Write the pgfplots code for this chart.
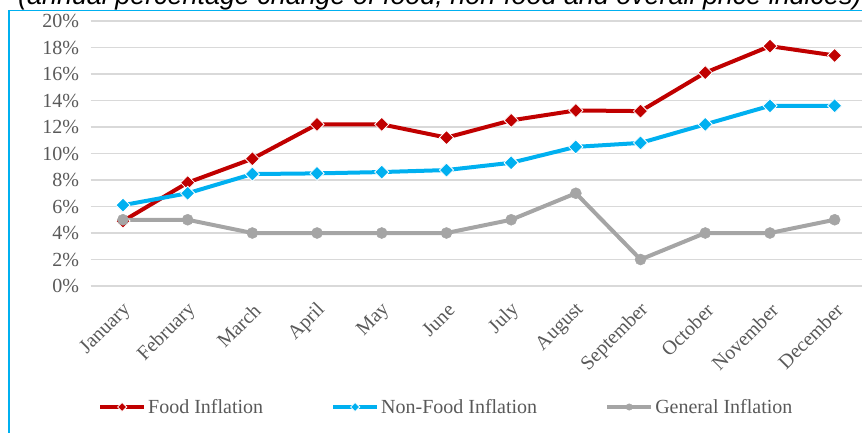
\documentclass[border=0pt]{standalone}
\usepackage{fontspec}
\setmainfont{Liberation Serif}
\newfontfamily\titlefont{Liberation Sans}
\usepackage{pgfplots}
\pgfplotsset{compat=1.18}
\definecolor{foodc}{HTML}{C00000}
\definecolor{nfoodc}{HTML}{00B0F0}
\definecolor{genc}{HTML}{A5A5A5}
\definecolor{gridc}{HTML}{D9D9D9}
\definecolor{txtc}{HTML}{595959}

\begin{document}
\begin{tikzpicture}[x=1pt,y=1pt]
\useasboundingbox (0,0) rectangle (862,432);
\clip (0,0) rectangle (862,432);
\draw[nfoodc, line width=1.5pt] (9,-5) -- (9,421.3) -- (870,421.3);
\node[anchor=base west, inner sep=0pt, font=\titlefont\itshape\fontsize{26.9}{30}\selectfont]
  at (18,427) {(annual percentage change of food, non-food and overall price indices)};
\begin{axis}[
  at={(90.6pt,146pt)}, anchor=south west,
  scale only axis, width=776.4pt, height=265pt,
  xmin=-0.5, xmax=11.5, ymin=0, ymax=20,
  axis line style={draw=none},
  major tick length=0pt,
  ymajorgrids, grid style={gridc, line width=1.5pt},
  ytick={0,2,...,20},
  yticklabels={0\%,2\%,4\%,6\%,8\%,10\%,12\%,14\%,16\%,18\%,20\%},
  xtick={0,...,11},
  xticklabels={January,February,March,April,May,June,July,August,September,October,November,December},
  tick label style={font=\fontsize{20}{24}\selectfont, text=txtc},
  yticklabel style={xshift=-8pt},
  xticklabel style={xshift=5pt, yshift=-21pt, rotate=45, anchor=east, inner sep=0pt},
  legend columns=3,
  legend style={draw=none, fill=none, at={(0.0095,-0.4566)}, anchor=west,
    font=\fontsize{20}{24}\selectfont, text=txtc, inner sep=0pt,
    nodes={inner sep=2pt},
    /tikz/every even column/.append style={column sep=66pt}},
  legend image code/.code={\draw[#1, mark size=3.2pt, mark repeat=2, mark phase=2]
    plot coordinates {(0pt,0pt) (22pt,0pt) (44pt,0pt)};},
]
\addplot[foodc, line width=4pt, mark=square*, mark size=5pt,
  mark options={rotate=45, fill=foodc, draw=white, line width=0.8pt}]
  coordinates {(0,4.9) (1,7.8) (2,9.6) (3,12.2) (4,12.2) (5,11.2) (6,12.5) (7,13.25) (8,13.2) (9,16.1) (10,18.1) (11,17.4)};
\addlegendentry{Food Inflation}
\addplot[nfoodc, line width=4pt, mark=square*, mark size=5pt,
  mark options={rotate=45, fill=nfoodc, draw=white, line width=0.8pt}]
  coordinates {(0,6.1) (1,7.0) (2,8.45) (3,8.5) (4,8.6) (5,8.75) (6,9.3) (7,10.5) (8,10.8) (9,12.2) (10,13.6) (11,13.6)};
\addlegendentry{Non-Food Inflation}
\addplot[genc, line width=4pt, mark=*, mark size=5.5pt,
  mark options={fill=genc, draw=genc, line width=0.5pt}]
  coordinates {(0,5) (1,5) (2,4) (3,4) (4,4) (5,4) (6,5) (7,7) (8,2) (9,4) (10,4) (11,5)};
\addlegendentry{General Inflation}
\end{axis}
\end{tikzpicture}
\end{document}
